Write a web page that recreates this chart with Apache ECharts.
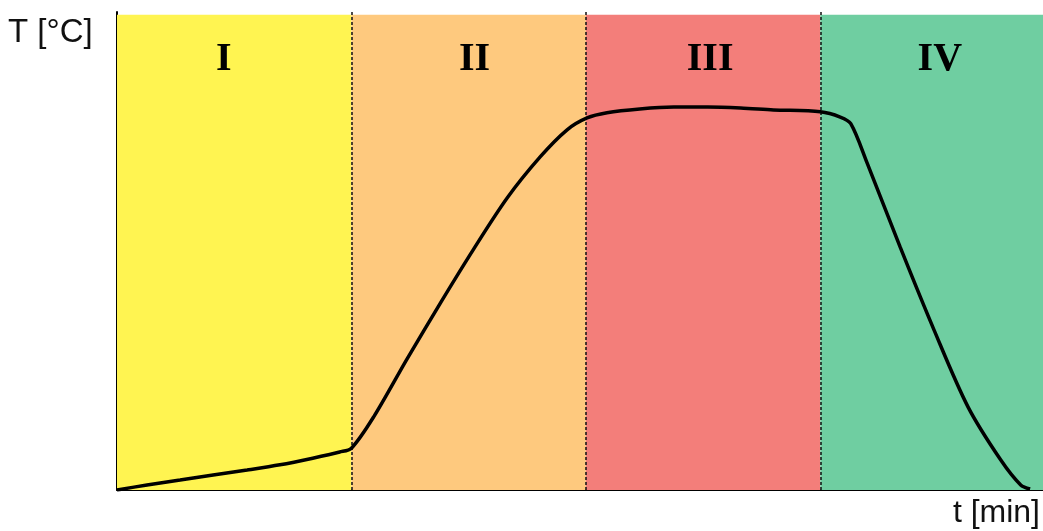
<!DOCTYPE html>
<html>
<head>
<meta charset="utf-8">
<script src="https://cdn.jsdelivr.net/npm/echarts@6/dist/echarts.min.js"></script>
<style>
html,body{margin:0;padding:0;background:#fff;}
#chart{width:1043px;height:531px;}
</style>
</head>
<body>
<div id="chart"></div>
<script>
// temperature curve, t in min (0..79), T in % of scale
var curveT = [0, 2.56, 5.38, 8.2, 11.1, 13.9, 16.7, 19.0, 20, 21.9, 24.75, 27.6, 30.4, 33.3, 36.1, 38.4, 40.1, 41.8, 44.6, 47.5, 50.4, 53.2, 56.0, 60.0, 61.7, 62.6, 64.0, 66.8, 69.7, 72.6, 75.4, 77.1, 77.9];
var curveTemp = [0, 1.05, 2.1, 3.16, 4.2, 5.3, 6.7, 8.0, 8.8, 15.4, 27.6, 39.4, 50.6, 61.5, 70.1, 75.8, 78.3, 79.4, 80.2, 80.6, 80.6, 80.4, 80.0, 79.6, 78.5, 77.1, 68.8, 51.2, 33.7, 17.5, 6.3, 1.05, 0.2];

// phases
var phaseNames = ['I', 'II', 'III', 'IV'];
var phaseStart = [0, 20, 40, 60];
var phaseEnd = [20, 40, 60, 79];
var phaseColors = ['#FFF451', '#FEC97E', '#F37E7A', '#6FCEA1'];
var phaseLabelX = [9.1, 30.5, 50.6, 70.2];
var phaseLabelY = 90.6;
var phaseBorders = [20, 40, 60];

var curveData = [];
for (var i = 0; i < curveT.length; i++) {
	curveData.push([curveT[i], curveTemp[i]]);
}

var areas = [];
for (var i = 0; i < phaseNames.length; i++) {
	areas.push([
		{xAxis: phaseStart[i], yAxis: 0, itemStyle: {color: phaseColors[i], opacity: 1}},
		{xAxis: phaseEnd[i], yAxis: 100}
	]);
}

var borders = [];
for (var i = 0; i < phaseBorders.length; i++) {
	borders.push({xAxis: phaseBorders[i]});
}

var labels = [];
for (var i = 0; i < phaseNames.length; i++) {
	labels.push({name: phaseNames[i], value: [phaseLabelX[i], phaseLabelY]});
}

var myChart = echarts.init(document.getElementById('chart'));
myChart.setOption({
	animation: false,
	grid: {left: 117, right: 0, top: 12, bottom: 41},
	xAxis: {
		type: 'value',
		min: 0,
		max: 79,
		axisLine: {show: true, lineStyle: {color: '#000', width: 2}},
		axisTick: {show: false},
		axisLabel: {show: false},
		splitLine: {show: false}
	},
	yAxis: {
		type: 'value',
		min: 0,
		max: 100.6,
		axisLine: {show: true, lineStyle: {color: '#000', width: 2}},
		axisTick: {show: false},
		axisLabel: {show: false},
		splitLine: {show: false}
	},
	graphic: [
		{type: 'text', left: 8, top: 16, style: {text: 'T [°C]', font: '33px "Liberation Sans", Arial, sans-serif', fill: '#111'}},
		{type: 'text', right: 3, top: 497, style: {text: 't [min]', font: '32px "Liberation Sans", Arial, sans-serif', fill: '#111'}}
	],
	series: [
		{
			type: 'line',
			data: curveData,
			smooth: 0.3,
			symbol: 'none',
			lineStyle: {color: '#000', width: 3.5},
			z: 5,
			markArea: {
				silent: true,
				data: areas
			},
			markLine: {
				silent: true,
				symbol: 'none',
				label: {show: false},
				lineStyle: {color: '#111', width: 1.5, type: [3, 2]},
				data: borders
			}
		},
		{
			type: 'scatter',
			symbolSize: 0,
			data: labels,
			z: 6,
			itemStyle: {opacity: 1},
			label: {
				show: true,
				position: 'inside',
				formatter: '{b}',
				color: '#000',
				opacity: 1,
				fontFamily: '"Liberation Serif", "Times New Roman", serif',
				fontWeight: 'bold',
				fontSize: 40
			}
		}
	]
});
</script>
</body>
</html>
